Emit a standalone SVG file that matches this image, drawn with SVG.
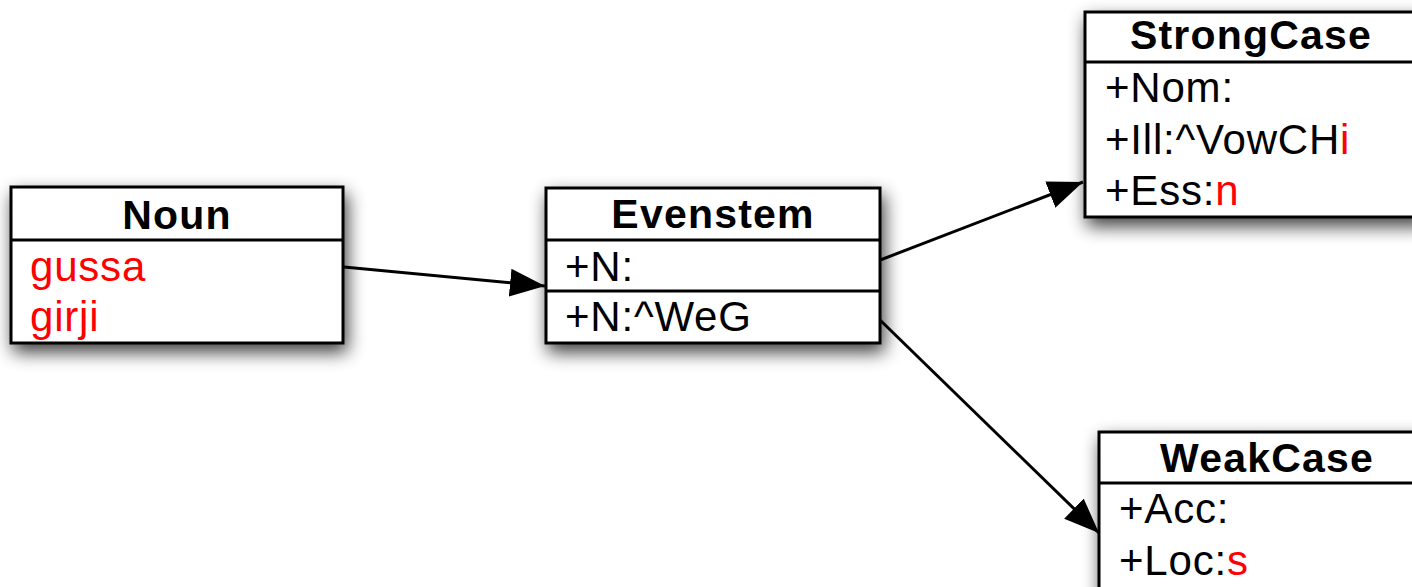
<svg xmlns="http://www.w3.org/2000/svg" width="1412" height="587" viewBox="0 0 1412 587">
<style>
.box{fill:#fff;stroke:#000;stroke-width:3}
.div{stroke:#000;stroke-width:3}
.title{font-family:"Liberation Sans",Arial,sans-serif;font-weight:bold;font-size:41px;letter-spacing:1.2px;fill:#000;text-anchor:middle}
.attr{font-family:"Liberation Sans",Arial,sans-serif;font-size:42px;letter-spacing:0.8px;fill:#000}
.red{fill:#ff0000}
.conn{stroke:#000;stroke-width:3;fill:none}
</style>
<defs>
<filter id="sh" x="-20%" y="-20%" width="150%" height="160%">
<feGaussianBlur in="SourceAlpha" stdDeviation="9"/>
<feOffset dx="3" dy="8" result="b"/>
<feComponentTransfer><feFuncA type="linear" slope="0.75"/></feComponentTransfer>
<feMerge><feMergeNode/><feMergeNode in="SourceGraphic"/></feMerge>
</filter>
<marker id="arr" viewBox="0 0 35 28" refX="35" refY="14" markerWidth="35" markerHeight="28" markerUnits="userSpaceOnUse" orient="auto">
<path d="M0,0 L35,14 L0,28 z" fill="#000"/>
</marker>
</defs>
<rect width="1412" height="587" fill="#fff"/>
<g id="connectors">
<line class="conn" x1="344" y1="267" x2="545" y2="286" marker-end="url(#arr)"/>
<line class="conn" x1="875" y1="262" x2="1083" y2="182" marker-end="url(#arr)"/>
<line class="conn" x1="880" y1="320" x2="1099" y2="533" marker-end="url(#arr)"/>
</g>
<g id="noun">
<rect class="box" x="11" y="187" width="332" height="156" filter="url(#sh)"/>
<line class="div" x1="11" y1="240" x2="343" y2="240"/>
<text class="title" x="177" y="229">Noun</text>
<text class="attr red" x="30" y="281">gussa</text>
<text class="attr red" x="30" y="331">girji</text>
</g>
<g id="evenstem">
<rect class="box" x="546" y="188" width="334" height="155" filter="url(#sh)"/>
<line class="div" x1="546" y1="240" x2="880" y2="240"/>
<line class="div" x1="546" y1="291" x2="880" y2="291"/>
<text class="title" x="713" y="228">Evenstem</text>
<text class="attr" x="565" y="281">+N:</text>
<text class="attr" x="565" y="331">+N:^WeG</text>
</g>
<g id="strongcase">
<rect class="box" x="1085" y="12" width="340" height="205" filter="url(#sh)"/>
<line class="div" x1="1085" y1="62" x2="1425" y2="62"/>
<text class="title" x="1251" y="49">StrongCase</text>
<text class="attr" x="1105" y="102">+Nom:</text>
<text class="attr" x="1105" y="154">+Ill:^VowCH<tspan class="red">i</tspan></text>
<text class="attr" x="1105" y="205">+Ess:<tspan class="red">n</tspan></text>
</g>
<g id="weakcase">
<rect class="box" x="1099" y="432" width="330" height="170" filter="url(#sh)"/>
<line class="div" x1="1099" y1="483" x2="1429" y2="483"/>
<text class="title" x="1267" y="472">WeakCase</text>
<text class="attr" x="1119" y="523">+Acc:</text>
<text class="attr" x="1119" y="575">+Loc:<tspan class="red">s</tspan></text>
</g>
</svg>
